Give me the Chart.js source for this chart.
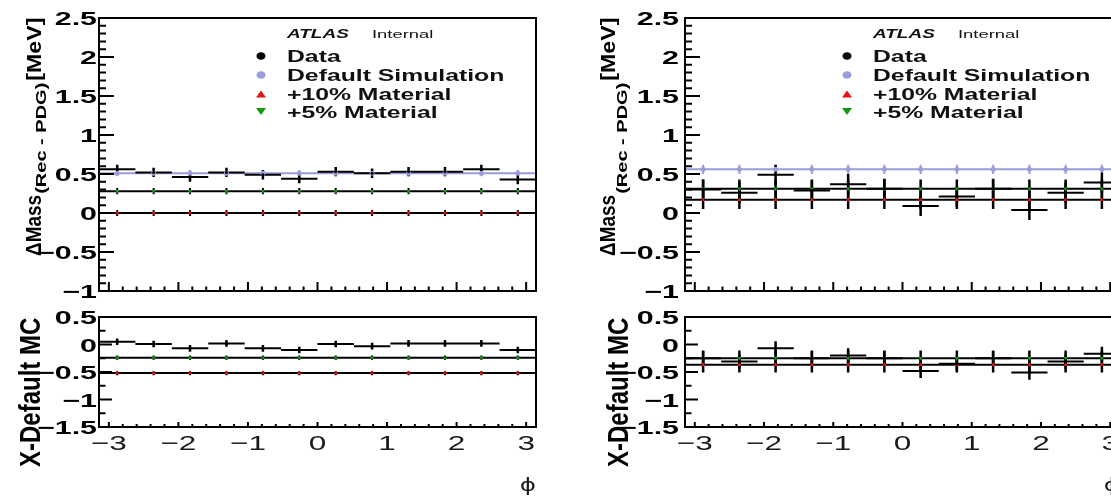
<!DOCTYPE html>
<html>
<head>
<meta charset="utf-8">
<script src="https://cdn.jsdelivr.net/npm/chart.js@4.4.1/dist/chart.umd.min.js"></script>
<style>
  html, body { margin: 0; padding: 0; background: #fff; overflow: hidden; width: 1111px; height: 500px; }
  canvas { position: absolute; left: 0; top: 0; }
</style>
</head>
<body>
<canvas id="leftMass" width="1130" height="500"></canvas>
<canvas id="leftDiff" width="1130" height="500"></canvas>
<canvas id="rightMass" width="1130" height="500"></canvas>
<canvas id="rightDiff" width="1130" height="500"></canvas>
<script>
// ---- phi binning ----
const phiMin = -3.1416, phiMax = 3.1416;
const binEdges = [-3.1416, -2.618, -2.0944, -1.5708, -1.0472, -0.5236, 0, 0.5236, 1.0472, 1.5708, 2.0944, 2.618, 3.1416];
const binCenters = [-2.880, -2.356, -1.833, -1.309, -0.785, -0.262, 0.262, 0.785, 1.309, 1.833, 2.356, 2.880];

// ---- left panel: mass shift [MeV] ----
const leftData       = [0.56, 0.52, 0.46, 0.52, 0.49, 0.44, 0.53, 0.51, 0.53, 0.53, 0.56, 0.43];
const leftDataErr    = [0.06, 0.06, 0.06, 0.06, 0.06, 0.06, 0.06, 0.06, 0.06, 0.06, 0.06, 0.06];
const leftDefault    = [0.51, 0.51, 0.51, 0.51, 0.51, 0.51, 0.51, 0.51, 0.51, 0.51, 0.51, 0.51];
const leftDefaultErr = [0.04, 0.04, 0.04, 0.04, 0.04, 0.04, 0.04, 0.04, 0.04, 0.04, 0.04, 0.04];
const leftMat10      = [0.00, 0.00, 0.00, 0.00, 0.00, 0.00, 0.00, 0.00, 0.00, 0.00, 0.00, 0.00];
const leftMat10Err   = [0.04, 0.04, 0.04, 0.04, 0.04, 0.04, 0.04, 0.04, 0.04, 0.04, 0.04, 0.04];
const leftMat5       = [0.28, 0.28, 0.28, 0.28, 0.28, 0.28, 0.28, 0.28, 0.28, 0.28, 0.28, 0.28];
const leftMat5Err    = [0.04, 0.04, 0.04, 0.04, 0.04, 0.04, 0.04, 0.04, 0.04, 0.04, 0.04, 0.04];

// ---- left panel: X - Default MC ----
const leftDiffData    = [0.05, 0.01, -0.07, 0.02, -0.07, -0.10, 0.01, -0.03, 0.02, 0.02, 0.02, -0.10];
const leftDiffDataErr = [0.06, 0.06, 0.06, 0.06, 0.06, 0.06, 0.06, 0.06, 0.06, 0.06, 0.06, 0.06];
const leftDiffMat10   = [-0.52, -0.52, -0.52, -0.52, -0.52, -0.52, -0.52, -0.52, -0.52, -0.52, -0.52, -0.52];
const leftDiffMat5    = [-0.24, -0.24, -0.24, -0.24, -0.24, -0.24, -0.24, -0.24, -0.24, -0.24, -0.24, -0.24];
const leftDiffMcErr   = [0.04, 0.04, 0.04, 0.04, 0.04, 0.04, 0.04, 0.04, 0.04, 0.04, 0.04, 0.04];

// ---- right panel: mass shift [MeV] ----
const rightData       = [0.30, 0.26, 0.49, 0.29, 0.37, 0.31, 0.09, 0.21, 0.31, 0.04, 0.26, 0.39];
const rightDataErr    = [0.13, 0.13, 0.13, 0.13, 0.13, 0.13, 0.13, 0.13, 0.13, 0.13, 0.13, 0.13];
const rightDefault    = [0.56, 0.56, 0.56, 0.56, 0.56, 0.56, 0.56, 0.56, 0.56, 0.56, 0.56, 0.56];
const rightDefaultErr = [0.06, 0.06, 0.06, 0.06, 0.06, 0.06, 0.06, 0.06, 0.06, 0.06, 0.06, 0.06];
const rightMat10      = [0.17, 0.17, 0.17, 0.17, 0.17, 0.17, 0.17, 0.17, 0.17, 0.17, 0.17, 0.17];
const rightMat5       = [0.31, 0.31, 0.31, 0.31, 0.31, 0.31, 0.31, 0.31, 0.31, 0.31, 0.31, 0.31];
const rightMcErr      = [0.12, 0.12, 0.12, 0.12, 0.12, 0.12, 0.12, 0.12, 0.12, 0.12, 0.12, 0.12];

// ---- right panel: X - Default MC ----
const rightDiffData    = [-0.25, -0.31, -0.07, -0.25, -0.20, -0.25, -0.48, -0.35, -0.25, -0.51, -0.31, -0.17];
const rightDiffDataErr = [0.13, 0.13, 0.13, 0.13, 0.13, 0.13, 0.13, 0.13, 0.13, 0.13, 0.13, 0.13];
const rightDiffMat10   = [-0.37, -0.37, -0.37, -0.37, -0.37, -0.37, -0.37, -0.37, -0.37, -0.37, -0.37, -0.37];
const rightDiffMat5    = [-0.25, -0.25, -0.25, -0.25, -0.25, -0.25, -0.25, -0.25, -0.25, -0.25, -0.25, -0.25];
const rightDiffMcErr   = [0.14, 0.14, 0.14, 0.14, 0.14, 0.14, 0.14, 0.14, 0.14, 0.14, 0.14, 0.14];

// ---- axis ticks and labels ----
const massTicks      = [-1, -0.5, 0, 0.5, 1, 1.5, 2, 2.5];
const massTickLabels = ['\u22121', '\u22120.5', '0', '0.5', '1', '1.5', '2', '2.5'];
const diffTicks      = [-1.5, -1, -0.5, 0, 0.5];
const diffTickLabels = ['\u22121.5', '\u22121', '\u22120.5', '0', '0.5'];
const phiTicks       = [-3, -2, -1, 0, 1, 2, 3];
const phiTickLabels  = ['\u22123', '\u22122', '\u22121', '0', '1', '2', '3'];
const legendLabels   = ['Data', 'Default Simulation', '+10% Material', '+5% Material'];

// ---- styling ----
const BLACK = '#000000', LAVENDER = '#9c9cda', RED = '#e41414', GREEN = '#129a12';
const FONT = '"Liberation Sans", Arial, Helvetica, sans-serif';
const W = 1130, H = 500;

// ---- dataset builders: error bars as broken line segments ----
function hBars(vals, color, width) {
  const pts = [];
  vals.forEach((v, i) => {
    pts.push({x: binEdges[i], y: v}, {x: binEdges[i + 1], y: v}, {x: binEdges[i + 1], y: null});
  });
  return {data: pts, borderColor: color, borderWidth: width, pointRadius: 0, spanGaps: false, fill: false};
}
function vBars(vals, errs, color, width) {
  const pts = [];
  vals.forEach((v, i) => {
    pts.push({x: binCenters[i], y: v - errs[i]}, {x: binCenters[i], y: v + errs[i]}, {x: binCenters[i], y: null});
  });
  return {data: pts, borderColor: color, borderWidth: width, pointRadius: 0, spanGaps: false, fill: false};
}
function markers(vals, color, style, radius, rotation) {
  return {
    data: vals.map((v, i) => ({x: binCenters[i], y: v})),
    showLine: false, pointStyle: style, pointRadius: radius, pointRotation: rotation || 0,
    pointBackgroundColor: color, pointBorderColor: color, pointBorderWidth: 0
  };
}
// datasets listed bottom-to-top; order makes later ones draw on top
function stack(list) {
  list.forEach((ds, i) => { ds.order = list.length - i; });
  return list;
}

// ---- text helpers ----
function hText(ctx, txt, x, y, font, sx, align) {
  ctx.save();
  ctx.font = font;
  ctx.textBaseline = 'alphabetic';
  ctx.textAlign = 'left';
  const w = ctx.measureText(txt).width * sx;
  let x0 = x;
  if (align === 'right') x0 = x - w;
  else if (align === 'center') x0 = x - w / 2;
  ctx.translate(x0, y);
  ctx.scale(sx, 1);
  ctx.fillText(txt, 0, 0);
  ctx.restore();
  return w;
}
// text reading upward, baseline on screen x = xb, starting at screen y = y0
function vText(ctx, txt, xb, y0, font, sl, sh) {
  ctx.save();
  ctx.font = font;
  ctx.textBaseline = 'alphabetic';
  ctx.textAlign = 'left';
  const w = ctx.measureText(txt).width * sl;
  ctx.translate(xb, y0);
  ctx.rotate(-Math.PI / 2);
  ctx.scale(sl, sh);
  ctx.fillText(txt, 0, 0);
  ctx.restore();
  return w;
}
function steps(min, max, step) {
  const out = [];
  for (let k = 0; min + k * step <= max + 1e-9; k++) out.push(+(min + k * step).toFixed(4));
  return out;
}

// ---- frame, inward ticks, tick labels ----
function padPlugin(cfg) {
  return {
    id: 'padFrame',
    afterDatasetsDraw(chart) {
      const {ctx, chartArea: a} = chart;
      const xs = chart.scales.x, ys = chart.scales.y;
      ctx.save();
      ctx.strokeStyle = BLACK;
      ctx.lineWidth = 2;
      ctx.beginPath();
      steps(ys.min, ys.max, cfg.yMinorStep).forEach(v => {
        const p = ys.getPixelForValue(v);
        ctx.moveTo(a.left, p); ctx.lineTo(a.left + cfg.yMinorLen, p);
      });
      cfg.yTicks.forEach(v => {
        const p = ys.getPixelForValue(v);
        ctx.moveTo(a.left, p); ctx.lineTo(a.left + cfg.yMajorLen, p);
      });
      steps(-3, 3, cfg.xMinorStep).forEach(v => {
        const p = xs.getPixelForValue(v);
        ctx.moveTo(p, a.bottom); ctx.lineTo(p, a.bottom - cfg.xMinorLen);
      });
      phiTicks.forEach(v => {
        const p = xs.getPixelForValue(v);
        ctx.moveTo(p, a.bottom); ctx.lineTo(p, a.bottom - cfg.xMajorLen);
      });
      ctx.stroke();
      ctx.lineWidth = 2;
      ctx.strokeRect(a.left, a.top, a.right - a.left, a.bottom - a.top);

      ctx.fillStyle = BLACK;
      cfg.yTicks.forEach((v, i) => {
        const p = ys.getPixelForValue(v);
        hText(ctx, cfg.yLabels[i], cfg.yLabelX, p + 7, 'bold 19px ' + FONT, 1.6, 'right');
      });
      if (cfg.xLabels) {
        ctx.fillStyle = '#1a1a1a';
        phiTicks.forEach((v, i) => {
          const p = xs.getPixelForValue(v);
          hText(ctx, phiTickLabels[i], p, 450, '21px ' + FONT, 1.5, 'center');
        });
        hText(ctx, '\u03D5', a.right, 491, '17px "DejaVu Sans", sans-serif', 1.45, 'right');
      }
      ctx.fillStyle = BLACK;
      cfg.title(ctx);
      ctx.restore();
    }
  };
}

// ---- legend block ----
function legendPlugin(frameLeft) {
  return {
    id: 'atlasLegend',
    afterDraw(chart) {
      const ctx = chart.ctx;
      const mx = frameLeft + 162, tx = frameLeft + 188;
      ctx.save();
      ctx.fillStyle = '#111';
      hText(ctx, 'ATLAS', tx, 37.5, 'italic bold 12px ' + FONT, 1.58, 'left');
      hText(ctx, 'Internal', tx + 85, 37.5, '10.5px ' + FONT, 1.75, 'left');
      const rows = [62, 81, 99.5, 117.5];
      legendLabels.forEach((lab, i) => hText(ctx, lab, tx, rows[i], 'bold 16.5px ' + FONT, 1.5, 'left'));
      // markers
      ctx.fillStyle = BLACK;
      ctx.beginPath(); ctx.ellipse(mx, 56, 4.5, 3.8, 0, 0, 2 * Math.PI); ctx.fill();
      ctx.fillStyle = LAVENDER;
      ctx.beginPath(); ctx.ellipse(mx, 75, 4.5, 3.8, 0, 0, 2 * Math.PI); ctx.fill();
      ctx.fillStyle = RED;
      ctx.beginPath(); ctx.moveTo(mx - 5, 97.5); ctx.lineTo(mx + 5, 97.5); ctx.lineTo(mx, 90.5); ctx.closePath(); ctx.fill();
      ctx.fillStyle = GREEN;
      ctx.beginPath(); ctx.moveTo(mx - 5, 108); ctx.lineTo(mx + 5, 108); ctx.lineTo(mx, 115); ctx.closePath(); ctx.fill();
      ctx.restore();
    }
  };
}

function massTitle(mainX, subX) {
  return ctx => {
    let y = 256;
    y -= vText(ctx, '\u0394Mass', mainX, y, 'bold 19px ' + FONT, 1.0, 1.15);
    y -= 1;
    y -= vText(ctx, '(Rec - PDG)', subX, y, 'bold 12.5px ' + FONT, 1.6, 1.1);
    y -= 2;
    vText(ctx, '[MeV]', mainX, y, 'bold 19px ' + FONT, 1.22, 1.1);
  };
}
function diffTitle(xb) {
  return ctx => { vText(ctx, 'X-Default MC', xb, 467, 'bold 24px ' + FONT, 1.0, 1.25); };
}

function makePad(id, area, yMin, yMax, datasets, plugins) {
  return new Chart(document.getElementById(id), {
    type: 'line',
    data: {datasets},
    options: {
      responsive: false, animation: false, devicePixelRatio: 1, events: [],
      layout: {padding: {left: area.left, top: area.top, right: W - area.right, bottom: H - area.bottom}},
      scales: {
        x: {type: 'linear', min: phiMin, max: phiMax, display: false},
        y: {type: 'linear', min: yMin, max: yMax, display: false}
      },
      elements: {line: {tension: 0, borderCapStyle: 'butt'}},
      plugins: {legend: {display: false}, tooltip: {enabled: false}}
    },
    plugins
  });
}

const leftUpper  = {left: 99,  top: 18,  right: 536,  bottom: 291};
const leftLower  = {left: 99,  top: 317, right: 536,  bottom: 427};
const rightUpper = {left: 685, top: 18,  right: 1120, bottom: 291};
const rightLower = {left: 685, top: 317, right: 1120, bottom: 427};

const upperTicks = {yTicks: massTicks, yLabels: massTickLabels, yMinorStep: 0.1, yMinorLen: 7, yMajorLen: 15,
                    xMinorStep: 0.2, xMinorLen: 4.5, xMajorLen: 9, xLabels: false};
const lowerTicks = {yTicks: diffTicks, yLabels: diffTickLabels, yMinorStep: 0.25, yMinorLen: 6.5, yMajorLen: 13,
                    xMinorStep: 0.2, xMinorLen: 3, xMajorLen: 5, xLabels: true};

// left, upper
makePad('leftMass', leftUpper, -1, 2.5, stack([
  hBars(leftDefault, LAVENDER, 2),
  vBars(leftDefault, leftDefaultErr, LAVENDER, 2),
  hBars(leftMat10, BLACK, 2),
  vBars(leftMat10, leftMat10Err, BLACK, 2),
  hBars(leftMat5, BLACK, 2),
  vBars(leftMat5, leftMat5Err, BLACK, 2),
  hBars(leftData, BLACK, 2),
  vBars(leftData, leftDataErr, BLACK, 2.5),
  markers(leftDefault, LAVENDER, 'circle', 2.5),
  markers(leftMat10, RED, 'triangle', 2.5),
  markers(leftMat5, GREEN, 'triangle', 2.5, 180),
  markers(leftData, BLACK, 'circle', 1.5)
]), [padPlugin(Object.assign({yLabelX: 97, title: massTitle(41, 46)}, upperTicks)), legendPlugin(leftUpper.left)]);

// left, lower
makePad('leftDiff', leftLower, -1.5, 0.5, stack([
  hBars(leftDiffMat10, BLACK, 2),
  vBars(leftDiffMat10, leftDiffMcErr, BLACK, 2),
  hBars(leftDiffMat5, BLACK, 2),
  vBars(leftDiffMat5, leftDiffMcErr, BLACK, 2),
  hBars(leftDiffData, BLACK, 2),
  vBars(leftDiffData, leftDiffDataErr, BLACK, 2.5),
  markers(leftDiffMat10, RED, 'triangle', 2.5),
  markers(leftDiffMat5, GREEN, 'triangle', 2.5, 180),
  markers(leftDiffData, BLACK, 'circle', 1.5)
]), [padPlugin(Object.assign({yLabelX: 97, title: diffTitle(40)}, lowerTicks))]);

// right, upper
makePad('rightMass', rightUpper, -1, 2.5, stack([
  hBars(rightDefault, LAVENDER, 2),
  vBars(rightDefault, rightDefaultErr, LAVENDER, 2),
  hBars(rightMat10, BLACK, 2),
  vBars(rightMat10, rightMcErr, BLACK, 2.5),
  hBars(rightMat5, BLACK, 2),
  vBars(rightMat5, rightMcErr, BLACK, 2.5),
  hBars(rightData, BLACK, 2),
  vBars(rightData, rightDataErr, BLACK, 2.5),
  markers(rightDefault, LAVENDER, 'circle', 2.5),
  markers(rightMat10, RED, 'triangle', 2.5),
  markers(rightMat5, GREEN, 'triangle', 2.5, 180),
  markers(rightData, BLACK, 'circle', 1.5)
]), [padPlugin(Object.assign({yLabelX: 679, title: massTitle(615, 627)}, upperTicks)), legendPlugin(rightUpper.left)]);

// right, lower
makePad('rightDiff', rightLower, -1.5, 0.5, stack([
  hBars(rightDiffMat10, BLACK, 2),
  vBars(rightDiffMat10, rightDiffMcErr, BLACK, 2.5),
  hBars(rightDiffMat5, BLACK, 2),
  vBars(rightDiffMat5, rightDiffMcErr, BLACK, 2.5),
  hBars(rightDiffData, BLACK, 2),
  vBars(rightDiffData, rightDiffDataErr, BLACK, 2.5),
  markers(rightDiffMat10, RED, 'triangle', 2.5),
  markers(rightDiffMat5, GREEN, 'triangle', 2.5, 180),
  markers(rightDiffData, BLACK, 'circle', 1.5)
]), [padPlugin(Object.assign({yLabelX: 679, title: diffTitle(628)}, lowerTicks))]);
</script>
</body>
</html>
